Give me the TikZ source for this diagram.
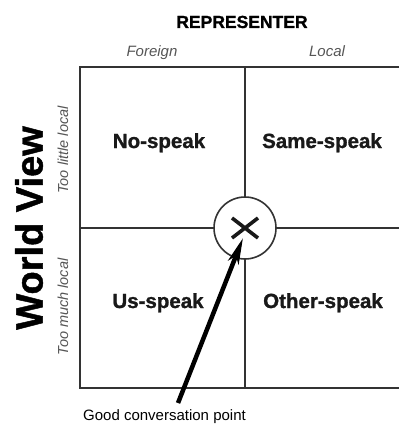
\documentclass[tikz,border=0pt]{standalone}
\usepackage{fontspec}
\setmainfont{Liberation Sans}
\newfontfamily\heavyfont{Liberation Sans}[BoldFeatures={FakeBold=1.2}]
\usetikzlibrary{arrows.meta,calc}
\definecolor{ink}{HTML}{333333}
\definecolor{softink}{HTML}{555555}
\begin{document}
\begin{tikzpicture}[x=1pt,y=-1pt,
  gridline/.style={draw=ink,line width=2pt},
  quad/.style={font=\heavyfont\fontsize{20.5}{22}\selectfont\bfseries,anchor=base,text=black!90,inner sep=0pt},
  axislabel/.style={font=\fontsize{15}{17}\selectfont\itshape,text=softink,inner sep=0pt},
  sidelabel/.style={font=\fontsize{14.5}{16}\selectfont\itshape,text=softink,inner sep=0pt,rotate=90}]
\useasboundingbox (0,0) rectangle (399,425);

% titles of the two axes
\node[font=\heavyfont\fontsize{17.5}{19}\selectfont\bfseries,anchor=base,inner sep=0pt] (rep) at (242,28) {REPRESENTER};
\node[axislabel,anchor=base] (foreign) at (152,57) {Foreign};
\node[axislabel,anchor=base] (local) at (327,57) {Local};
\node[font=\heavyfont\fontsize{38}{40}\selectfont\bfseries,rotate=90,inner sep=0pt] (wv) at (29,228) {World View};
\node[sidelabel] (little) at (63,150) {Too little local};
\node[sidelabel] (much) at (63,307) {Too much local};

% centre marker
\node[circle,draw=ink,line width=1.6pt,minimum size=62pt,inner sep=0pt,fill=white] (gcp) at (245,228) {};
\draw[line width=3.6pt,black!90] ($(gcp)+(-13,-10)$) -- ($(gcp)+(13,10)$)
      ($(gcp)+(-13,10)$) -- ($(gcp)+(13,-10)$);

% quadrant grid
\draw[gridline] (399,67) -- (80,67) -- (80,388) -- (399,388);
\draw[gridline] (80,228) -- (gcp.west);
\draw[gridline] (gcp.east) -- (399,228);
\draw[gridline] (245,67) -- (gcp.north);
\draw[gridline] (gcp.south) -- (245,388);

% quadrant names
\node[quad] (no) at (159,148) {No-speak};
\node[quad] (same) at (322,148) {Same-speak};
\node[quad] (us) at (158,308) {Us-speak};
\node[quad] (other) at (323,308) {Other-speak};

% pointer to the centre
\node[font=\fontsize{15}{17}\selectfont,anchor=base west,inner sep=0pt] (gcplabel) at (83,420) {Good conversation point};
\coordinate (tail) at (178,403);
\coordinate (tip) at (243,238);
\draw[line width=4.5pt,black,-{Stealth[length=26pt,width=11pt,inset=7pt]}] (tail) -- (tip);
\end{tikzpicture}
\end{document}
